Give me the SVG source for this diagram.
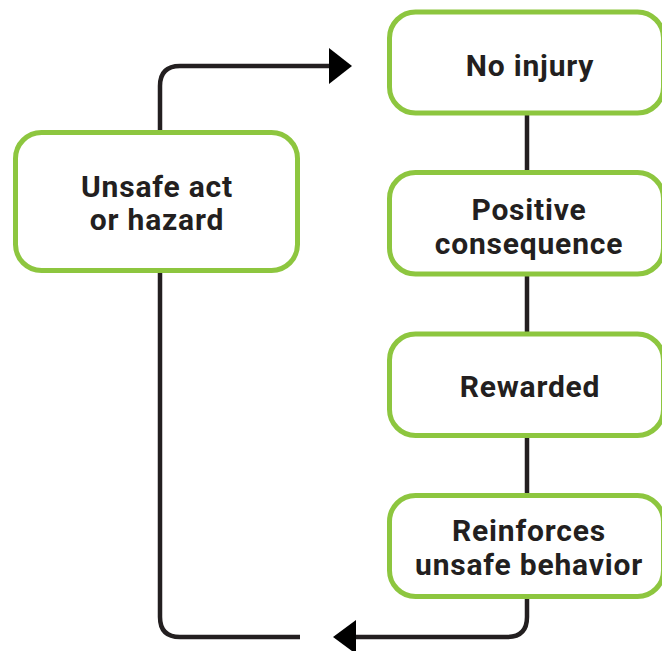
<svg xmlns="http://www.w3.org/2000/svg" width="662" height="651" viewBox="0 0 662 651">
<defs>
<style>
.box{fill:#fff;stroke:#8DC63F;stroke-width:5}
.lbl{font-family:Roboto,"Liberation Sans",sans-serif;font-weight:bold;font-size:30px;fill:#231F20;text-anchor:middle;letter-spacing:0.8px}
.conn{fill:none;stroke:#231F20;stroke-width:4.5}
.head{fill:#000}
</style>
</defs>
<rect width="662" height="651" fill="#fff"/>
<g id="connectors">
<path class="conn" d="M160,134 V86 Q160,66 180,66 H331"/>
<polygon class="head" points="329,48 352,66 329,84"/>
<path class="conn" d="M527,113 V617 Q527,637 507,637 H355"/>
<polygon class="head" points="356,620 333,637 356,654"/>
<path class="conn" d="M300,637 H180 Q160,637 160,617 V270"/>
</g>
<g id="unsafe">
<rect class="box" x="15.5" y="132.5" width="282" height="138" rx="26"/>
<text class="lbl" x="157" y="197">Unsafe act</text>
<text class="lbl" x="157" y="230">or hazard</text>
</g>
<g id="noinjury">
<rect class="box" x="389.5" y="12" width="274" height="101" rx="26"/>
<text class="lbl" x="530" y="76">No injury</text>
</g>
<g id="positive">
<rect class="box" x="389.5" y="172.5" width="274" height="101.5" rx="26"/>
<text class="lbl" x="529" y="220">Positive</text>
<text class="lbl" x="529" y="254">consequence</text>
</g>
<g id="rewarded">
<rect class="box" x="389.5" y="334" width="274" height="101.5" rx="26"/>
<text class="lbl" x="530" y="397">Rewarded</text>
</g>
<g id="reinforces">
<rect class="box" x="389.5" y="495.5" width="274" height="101" rx="26"/>
<text class="lbl" x="529" y="541">Reinforces</text>
<text class="lbl" x="529" y="575">unsafe behavior</text>
</g>
</svg>
